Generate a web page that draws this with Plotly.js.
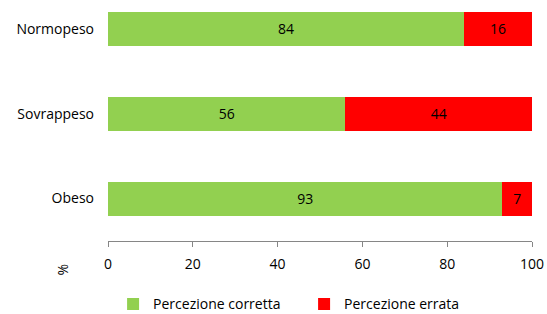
<!DOCTYPE html>
<html>
<head>
<meta charset="utf-8">
<script src="https://cdn.plot.ly/plotly-3.0.1.min.js"></script>
<style>html,body{margin:0;padding:0;background:#fff;}#chart{width:547px;height:314px;}</style>
</head>
<body>
<div id="chart"></div>
<script>
const categories = ["Normopeso", "Sovrappeso", "Obeso"];
const corretta = [84, 56, 93];
const errata = [16, 44, 7];
const seriesNames = ["Percezione corretta", "Percezione errata"];
const xTicks = [0, 20, 40, 60, 80, 100];

const FONT = "'Open Sans', Lato, sans-serif";
const FS = 14;

const traces = [
  {
    type: "bar", orientation: "h", name: seriesNames[0],
    y: categories, x: corretta, text: corretta.map(String),
    marker: {color: "#92D050", line: {width: 0}},
    width: 0.4, textposition: "inside", insidetextanchor: "middle",
    textfont: {color: "#000", size: FS, family: FONT}, hoverinfo: "none"
  },
  {
    type: "bar", orientation: "h", name: seriesNames[1],
    y: categories, x: errata, text: errata.map(String),
    marker: {color: "#FF0000", line: {width: 0}},
    width: 0.4, textposition: "inside", insidetextanchor: "middle",
    textfont: {color: "#000", size: FS, family: FONT}, hoverinfo: "none"
  }
];

const layout = {
  width: 547, height: 314,
  margin: {l: 108, r: 15, t: 0, b: 72.5, autoexpand: false},
  barmode: "stack",
  showlegend: true,
  paper_bgcolor: "#fff", plot_bgcolor: "#fff",
  font: {family: FONT, size: FS, color: "#000"},
  xaxis: {
    range: [0, 100], tickvals: xTicks, ticktext: xTicks.map(String),
    showgrid: false, zeroline: false, showline: true, linecolor: "#868686", linewidth: 1,
    ticks: "outside", ticklen: 5, tickcolor: "#868686", tickwidth: 1,
    tickfont: {family: FONT, size: FS, color: "#000"}, ticklabelstandoff: 5
  },
  yaxis: {
    type: "category", categoryorder: "array", categoryarray: categories,
    range: [2.5, -0.341], showgrid: false, zeroline: false, showline: false,
    ticks: "", tickfont: {family: FONT, size: FS, color: "#000"}, ticklabelstandoff: 13
  },
  legend: {
    orientation: "h", x: 0.012, xanchor: "left", y: -0.263, yanchor: "middle",
    font: {family: FONT, size: FS, color: "#000"}, itemwidth: 30, entrywidth: 146,
    traceorder: "normal", itemclick: false
  },
  annotations: [{
    text: "%", xref: "paper", yref: "paper", x: (62 - 108) / 424, y: -(270 - 241.5) / 241.5,
    xanchor: "center", yanchor: "middle", showarrow: false, textangle: -90,
    font: {family: FONT, size: FS, color: "#000"}
  }]
};

Plotly.newPlot("chart", traces, layout, {staticPlot: true, displayModeBar: false});
</script>
</body>
</html>
